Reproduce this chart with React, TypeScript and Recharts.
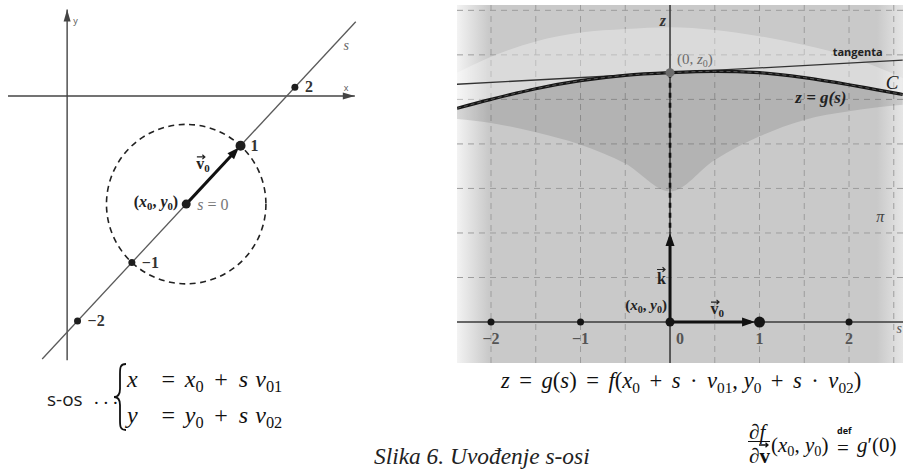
import React from 'react';
import { ComposedChart, Line, Area, Scatter, XAxis, YAxis, CartesianGrid, ReferenceLine } from 'recharts';

const SERIF = '"Liberation Serif", "DejaVu Serif", serif';
const SANS = '"Open Sans", "DejaVu Sans", sans-serif';

// left panel: the s-axis through (x0, y0) in the xy-plane
const P0 = [1.49, -1.35];
const V0 = [0.68, 0.73];
const S_MARKS = [-2, -1, 0, 1, 2];
const S_LINE_ENDS = [-2.65, 3.12];
const X_AXIS_ENDS = [-0.74, 3.6];
const Y_AXIS_ENDS = [-3.3, 1.08];
const X_DOMAIN_L = [-0.84, 3.79];
const Y_DOMAIN_L = [-3.36, 1.2];

// right panel: vertical cut of the surface along s
const S_SAMPLES = [-2.38, -2, -1.5, -1, -0.5, 0, 0.5, 1, 1.5, 2, 2.3, 2.6];
const G_VALUES = [2.4, 2.5, 2.62, 2.71, 2.77, 2.8, 2.815, 2.8, 2.745, 2.665, 2.61, 2.555];
const DOME_TOP = [2.8, 2.98, 3.15, 3.25, 3.29, 3.31, 3.28, 3.21, 3.11, 2.98, 2.87, 2.74];
const SHADE_LOW = [2.28, 2.236, 2.13, 1.99, 1.78, 1.467, 1.82, 2.085, 2.27, 2.366, 2.41, 2.44];
const Z0 = 2.8;
const TANGENT_S = [-2.38, 2.6];
const TANGENT_Z = [2.67, 2.94];
const K_TIP = 1;
const V_TIP = 0.95;
const S_TICKS = [-2, -1, 0, 1, 2];
const S_TICK_LABELS = ['−2', '−1', '0', '1', '2'];
const GRID_S = [-2, -1.5, -1, -0.5, 0.5, 1, 1.5, 2, 2.5];
const GRID_Z = [0.5, 1, 1.5, 2, 2.5, 3, 3.5];
const S_DOMAIN = [-2.38, 2.603];
const Z_DOMAIN = [-0.46, 3.56];

const LW = 370;
const LH = 365;
const RW = 446;
const RH = 358;

const onLine = (s: number) => ({ x: P0[0] + s * V0[0], y: P0[1] + s * V0[1] });
const sLine = S_LINE_ENDS.map(onLine);
const sDots = S_MARKS.map((s) => ({ s, ...onLine(s) }));
const xAxisL = X_AXIS_ENDS.map((x) => ({ x, y: 0 }));
const yAxisL = Y_AXIS_ENDS.map((y) => ({ x: 0, y }));
const v0Left = [onLine(0), onLine(0.9)];
const circleR = Math.hypot(V0[0], V0[1]) * (LW / (X_DOMAIN_L[1] - X_DOMAIN_L[0]));
const v0Angle = (Math.atan2(-V0[1], V0[0]) * 180) / Math.PI;

const arrowsL = [
  { x: X_AXIS_ENDS[1], y: 0, angle: 0, len: 12, w: 3.5, color: '#444' },
  { x: 0, y: Y_AXIS_ENDS[1], angle: -90, len: 12, w: 3.5, color: '#444' },
  { ...onLine(0.97), angle: v0Angle, len: 12, w: 4.5, color: '#111' },
];

const labelsL = [
  ...sDots.map((d) => ({ ...d, id: 'tick' })),
  { x: P0[0], y: P0[1], id: 'p0' },
  { x: P0[0], y: P0[1], id: 's0' },
  { ...onLine(0.5), id: 'v0' },
  { ...onLine(2.71), id: 's' },
  { x: 0, y: Y_AXIS_ENDS[1], id: 'y' },
  { x: X_AXIS_ENDS[1], y: 0, id: 'x' },
];

const surface = S_SAMPLES.map((s, i) => ({
  s,
  g: G_VALUES[i],
  dome: [G_VALUES[i], DOME_TOP[i]],
  shade: [SHADE_LOW[i], G_VALUES[i]],
}));
const tangent = TANGENT_S.map((s, i) => ({ s, z: TANGENT_Z[i] }));
const zAxisR = Z_DOMAIN.map((z) => ({ s: 0, z }));
const sAxisR = S_DOMAIN.map((s) => ({ s, z: 0 }));
const dropLine = [{ s: 0, z: Z0 }, { s: 0, z: K_TIP }];
const kVec = [{ s: 0, z: 0 }, { s: 0, z: K_TIP - 0.05 }];
const vVec = [{ s: 0, z: 0 }, { s: V_TIP - 0.05, z: 0 }];
const dotsR = S_TICKS.map((s, i) => ({ s, z: 0, label: S_TICK_LABELS[i] }));
const arrowsR = [
  { s: 0, z: K_TIP, angle: -90, len: 13, w: 4.5, color: '#111' },
  { s: V_TIP, z: 0, angle: 0, len: 13, w: 4.5, color: '#111' },
];
const labelsR = [
  ...dotsR.map((d) => ({ ...d, id: 'tick' })),
  { s: 0, z: Z_DOMAIN[1], id: 'z' },
  { s: 0, z: Z0, id: 'z0' },
  { s: TANGENT_S[1], z: TANGENT_Z[1], id: 'tangenta' },
  { s: S_SAMPLES[S_SAMPLES.length - 1], z: G_VALUES[G_VALUES.length - 1], id: 'C' },
  { s: 1.5, z: G_VALUES[8], id: 'zg' },
  { s: 2.35, z: 1.18, id: 'pi' },
  { s: 0, z: K_TIP / 2, id: 'k' },
  { s: 0, z: 0, id: 'p0' },
  { s: V_TIP / 2, z: 0, id: 'v0' },
  { s: S_DOMAIN[1], z: 0, id: 's' },
];

// a straight segment between two data points, drawn through the chart scales
const seg = (pts: any[], kx: string, ky: string) => pts.map((p) => ({ x: p[kx], y: p[ky] }));

function ArrowHead(props: any) {
  const { cx, cy, payload } = props;
  const { len, w, angle, color } = payload;
  return (
    <polygon
      points={`0,0 ${-len},${-w} ${-len},${w}`}
      fill={color}
      transform={`translate(${cx},${cy}) rotate(${angle})`}
    />
  );
}

function VecArrow({ x, y, w = 8 }: { x: number; y: number; w?: number }) {
  return (
    <path
      d={`M${x},${y} h${w} m-2.5,-2.2 l2.5,2.2 l-2.5,2.2`}
      stroke="#222"
      strokeWidth={1.2}
      fill="none"
    />
  );
}

function PairLabel({ x, y, anchor, size = 15 }: { x: number; y: number; anchor: 'start' | 'end'; size?: number }) {
  return (
    <text x={x} y={y} textAnchor={anchor} fontFamily={SERIF} fontWeight="bold" fontSize={size} fill="#222">
      (<tspan fontStyle="italic">x</tspan>
      <tspan dy={3} fontSize={size * 0.67}>0</tspan>
      <tspan dy={-3}>, </tspan>
      <tspan fontStyle="italic">y</tspan>
      <tspan dy={3} fontSize={size * 0.67}>0</tspan>
      <tspan dy={-3}>)</tspan>
    </text>
  );
}

function V0Label({ x, y }: { x: number; y: number }) {
  return (
    <g>
      <text x={x} y={y} fontFamily={SERIF} fontWeight="bold" fontSize={16} fill="#222">
        v<tspan dy={3} fontSize={11}>0</tspan>
      </text>
      <VecArrow x={x + 0.5} y={y - 12} />
    </g>
  );
}

function LeftDot(props: any) {
  const { cx, cy, payload } = props;
  const r = payload.s === 1 ? 5 : payload.s === 0 ? 4.5 : 3.5;
  return <circle cx={cx} cy={cy} r={r} fill="#1e1e1e" />;
}

function DashedCircle(props: any) {
  const { cx, cy } = props;
  return <circle cx={cx} cy={cy} r={circleR} fill="none" stroke="#222" strokeWidth={1.6} strokeDasharray="6 4.5" />;
}

function LeftLabel(props: any) {
  const { cx, cy, payload } = props;
  switch (payload.id) {
    case 'tick': {
      if (payload.s === 0) return null;
      const t = payload.s < 0 ? `−${-payload.s}` : `${payload.s}`;
      return (
        <text x={cx + 10} y={cy + 5} fontFamily={SERIF} fontWeight="bold" fontSize={16} fill="#333">
          {t}
        </text>
      );
    }
    case 'p0':
      return <PairLabel x={cx - 8} y={cy + 3} anchor="end" size={16} />;
    case 's0':
      return (
        <text x={cx + 11} y={cy + 6} fontFamily={SERIF} fontSize={16} fill="#777">
          <tspan fontStyle="italic">s</tspan> = 0
        </text>
      );
    case 'v0':
      return <V0Label x={cx - 17} y={cy - 6} />;
    case 's':
      return (
        <text x={cx + 10} y={cy + 4} fontFamily={SERIF} fontStyle="italic" fontSize={14} fill="#666">
          s
        </text>
      );
    case 'y':
      return (
        <text x={cx + 6} y={cy + 14} fontFamily={SANS} fontSize={9} fill="#555">
          y
        </text>
      );
    case 'x':
      return (
        <text x={cx - 11} y={cy - 5} fontFamily={SANS} fontSize={9} fill="#555">
          x
        </text>
      );
    default:
      return null;
  }
}

function RightDot(props: any) {
  const { cx, cy, payload } = props;
  const r = payload.s === 1 ? 5.5 : payload.s === 0 ? 4.5 : 3.5;
  return <circle cx={cx} cy={cy} r={r} fill="#151515" />;
}

function Z0Dot(props: any) {
  const { cx, cy } = props;
  return <circle cx={cx} cy={cy} r={4.5} fill="#6b6b6b" />;
}

function RightLabel(props: any) {
  const { cx, cy, payload } = props;
  switch (payload.id) {
    case 'tick':
      return (
        <text
          x={payload.s === 0 ? cx + 10 : cx}
          y={cy + 22}
          textAnchor="middle"
          fontFamily={SERIF}
          fontWeight="bold"
          fontSize={16}
          fill="#555"
        >
          {payload.label}
        </text>
      );
    case 'z':
      return (
        <text x={cx - 4} y={cy + 21} textAnchor="end" fontFamily={SERIF} fontWeight="bold" fontStyle="italic" fontSize={16} fill="#333">
          z
        </text>
      );
    case 'z0':
      return (
        <text x={cx + 7} y={cy - 9} fontFamily={SERIF} fontSize={15} fill="#6a6a6a">
          (0, <tspan fontStyle="italic">z</tspan>
          <tspan dy={3} fontSize={10}>0</tspan>
          <tspan dy={-3}>)</tspan>
        </text>
      );
    case 'tangenta':
      return (
        <text x={cx - 20} y={cy - 4} textAnchor="end" fontFamily={SANS} fontWeight="bold" fontSize={11} fill="#222">
          tangenta
        </text>
      );
    case 'C':
      return (
        <text x={cx - 17} y={cy - 6} fontFamily={SERIF} fontStyle="italic" fontSize={19} fill="#222">
          C
        </text>
      );
    case 'zg':
      return (
        <text x={cx - 9} y={cy + 25} fontFamily={SERIF} fontWeight="bold" fontStyle="italic" fontSize={17} fill="#222">
          z = g(s)
        </text>
      );
    case 'pi':
      return (
        <text x={cx} y={cy + 5} textAnchor="middle" fontFamily={SERIF} fontStyle="italic" fontSize={16} fill="#444">
          π
        </text>
      );
    case 'k':
      return (
        <g>
          <text x={cx - 4} y={cy + 6} textAnchor="end" fontFamily={SERIF} fontWeight="bold" fontSize={16} fill="#222">
            k
          </text>
          <VecArrow x={cx - 13} y={cy - 8} />
        </g>
      );
    case 'p0':
      return <PairLabel x={cx - 3} y={cy - 12} anchor="end" />;
    case 'v0':
      return <V0Label x={cx - 2} y={cy - 8} />;
    case 's':
      return (
        <text x={cx - 1} y={cy + 11} textAnchor="end" fontFamily={SERIF} fontStyle="italic" fontSize={14} fill="#555">
          s
        </text>
      );
    default:
      return null;
  }
}

function LeftPanel() {
  return (
    <ComposedChart width={LW} height={LH} margin={{ top: 0, right: 0, bottom: 0, left: 0 }}>
      <XAxis type="number" dataKey="x" domain={X_DOMAIN_L} allowDataOverflow hide />
      <YAxis type="number" dataKey="y" domain={Y_DOMAIN_L} allowDataOverflow hide />
      <ReferenceLine segment={xAxisL} stroke="#444" strokeWidth={1.4} ifOverflow="hidden" />
      <ReferenceLine segment={yAxisL} stroke="#444" strokeWidth={1.4} ifOverflow="hidden" />
      <ReferenceLine segment={sLine} stroke="#5a5a5a" strokeWidth={1.3} ifOverflow="hidden" />
      <Scatter data={[{ x: P0[0], y: P0[1] }]} dataKey="y" shape={DashedCircle} isAnimationActive={false} />
      <ReferenceLine segment={v0Left} stroke="#111" strokeWidth={3} ifOverflow="hidden" />
      <Scatter data={arrowsL} dataKey="y" shape={ArrowHead} isAnimationActive={false} />
      <Scatter data={sDots} dataKey="y" shape={LeftDot} isAnimationActive={false} />
      <Scatter data={labelsL} dataKey="y" shape={LeftLabel} isAnimationActive={false} />
    </ComposedChart>
  );
}

function RightPanel() {
  return (
    <ComposedChart width={RW} height={RH} margin={{ top: 0, right: 0, bottom: 0, left: 0 }}>
      <XAxis type="number" dataKey="s" domain={S_DOMAIN} ticks={GRID_S} allowDataOverflow hide />
      <YAxis type="number" dataKey="z" domain={Z_DOMAIN} ticks={GRID_Z} allowDataOverflow hide />
      <CartesianGrid
        stroke="#9d9d9d"
        strokeDasharray="6 5"
        verticalValues={GRID_S}
        horizontalValues={GRID_Z}
      />
      <Area data={surface} type="monotone" dataKey="dome" fill="#ffffff" fillOpacity={0.32} stroke="none" isAnimationActive={false} />
      <Area data={surface} type="monotone" dataKey="shade" fill="#000000" fillOpacity={0.11} stroke="none" isAnimationActive={false} />
      <ReferenceLine segment={seg(zAxisR, 's', 'z')} stroke="#333" strokeWidth={1.5} ifOverflow="hidden" />
      <ReferenceLine segment={seg(sAxisR, 's', 'z')} stroke="#3a3a3a" strokeWidth={1.5} ifOverflow="hidden" />
      <ReferenceLine segment={seg(tangent, 's', 'z')} stroke="#333" strokeWidth={1.3} ifOverflow="hidden" />
      <ReferenceLine segment={seg(dropLine, 's', 'z')} stroke="#111" strokeWidth={2.6} strokeDasharray="5 5" ifOverflow="hidden" />
      <Line data={surface} type="monotone" dataKey="g" stroke="#161616" strokeWidth={3.2} dot={false} activeDot={false} isAnimationActive={false} />
      <Line data={surface} type="monotone" dataKey="g" stroke="#555" strokeWidth={1} strokeDasharray="4 3" dot={false} activeDot={false} isAnimationActive={false} />
      <ReferenceLine segment={seg(kVec, 's', 'z')} stroke="#111" strokeWidth={3} ifOverflow="hidden" />
      <ReferenceLine segment={seg(vVec, 's', 'z')} stroke="#111" strokeWidth={3} ifOverflow="hidden" />
      <Scatter data={arrowsR} dataKey="z" shape={ArrowHead} isAnimationActive={false} />
      <Scatter data={[{ s: 0, z: Z0 }]} dataKey="z" shape={Z0Dot} isAnimationActive={false} />
      <Scatter data={dotsR} dataKey="z" shape={RightDot} isAnimationActive={false} />
      <Scatter data={labelsR} dataKey="z" shape={RightLabel} isAnimationActive={false} />
    </ComposedChart>
  );
}

const sub = (t: string) => (
  <span style={{ fontSize: '0.68em', position: 'relative', top: '0.3em' }}>{t}</span>
);
const op = (t: string, m = '0.42em') => <span style={{ margin: `0 ${m}` }}>{t}</span>;

export default function App() {
  const math: React.CSSProperties = { position: 'absolute', fontFamily: SERIF, fontSize: 21, lineHeight: '20px', whiteSpace: 'nowrap', color: '#111' };
  return (
    <div style={{ position: 'absolute', left: 0, top: 0, width: 903, height: 471, background: '#fff', overflow: 'hidden' }}>
      <div style={{ position: 'absolute', left: 0, top: 0 }}>
        <LeftPanel />
      </div>
      <div
        style={{
          position: 'absolute',
          left: 457,
          top: 5,
          width: RW,
          height: RH,
          background: 'linear-gradient(to right, #f3f3f3 0px, #c9c9c9 32px, #c9c9c9 420px, #e6e6e6 446px)',
        }}
      >
        <RightPanel />
      </div>

      <div style={{ ...math, left: 47, top: 389, fontFamily: SANS, fontSize: 19, fontWeight: 500, color: '#1a1a1a' }}>s-os</div>
      <div style={{ ...math, left: 94, top: 388, fontSize: 19 }}>. . .</div>
      <svg style={{ position: 'absolute', left: 110, top: 361 }} width={20} height={72}>
        <path
          d="M16,3 C10,3 10,7 10,13 L10,28 C10,33 8,36 4,36 C8,36 10,39 10,44 L10,59 C10,65 10,69 16,69"
          stroke="#111"
          strokeWidth={1.8}
          fill="none"
        />
      </svg>
      <div style={{ ...math, left: 127, top: 369, fontSize: 24 }}><i>x</i></div>
      <div style={{ ...math, left: 152, top: 369, fontSize: 24 }}>
        {op('=', '0.4em')}<i>x</i>{sub('0')}{op('+', '0.45em')}<i>s</i><span style={{ marginLeft: '0.3em' }} /><i>v</i>{sub('01')}
      </div>
      <div style={{ ...math, left: 127, top: 405, fontSize: 24 }}><i>y</i></div>
      <div style={{ ...math, left: 152, top: 405, fontSize: 24 }}>
        {op('=', '0.4em')}<i>y</i>{sub('0')}{op('+', '0.45em')}<i>s</i><span style={{ marginLeft: '0.3em' }} /><i>v</i>{sub('02')}
      </div>

      <div style={{ ...math, left: 501, top: 371, fontSize: 22.6 }}>
        <i>z</i>{op('=')}<i>g</i>(<i>s</i>){op('=')}<i>f</i>(<i>x</i>{sub('0')}{op('+')}<i>s</i>{op('·')}<i>v</i>{sub('01')}, <i>y</i>{sub('0')}{op('+')}<i>s</i>{op('·')}<i>v</i>{sub('02')})
      </div>

      <div style={{ ...math, left: 374, top: 446, fontSize: 23.4, fontStyle: 'italic', color: '#222' }}>Slika 6. Uvođenje s-osi</div>

      <div style={{ ...math, left: 749, top: 422 }}>∂<i>f</i></div>
      <div style={{ position: 'absolute', left: 748, top: 441, width: 22, height: 1.3, background: '#111' }} />
      <div style={{ ...math, left: 749, top: 446, fontWeight: 'bold' }}>∂v</div>
      <svg style={{ position: 'absolute', left: 758, top: 440 }} width={14} height={10}>
        <path d="M1,5 h9 m-2.5,-2.2 l2.5,2.2 l-2.5,2.2" stroke="#111" strokeWidth={1.3} fill="none" />
      </svg>
      <div style={{ ...math, left: 771, top: 435 }}>(<i>x</i>{sub('0')}, <i>y</i>{sub('0')})</div>
      <div style={{ ...math, left: 837, top: 426, fontFamily: SANS, fontWeight: 'bold', fontSize: 9, lineHeight: '10px' }}>def</div>
      <div style={{ ...math, left: 837, top: 438 }}>=</div>
      <div style={{ ...math, left: 857, top: 435 }}><i>g</i>′(0)</div>
    </div>
  );
}
